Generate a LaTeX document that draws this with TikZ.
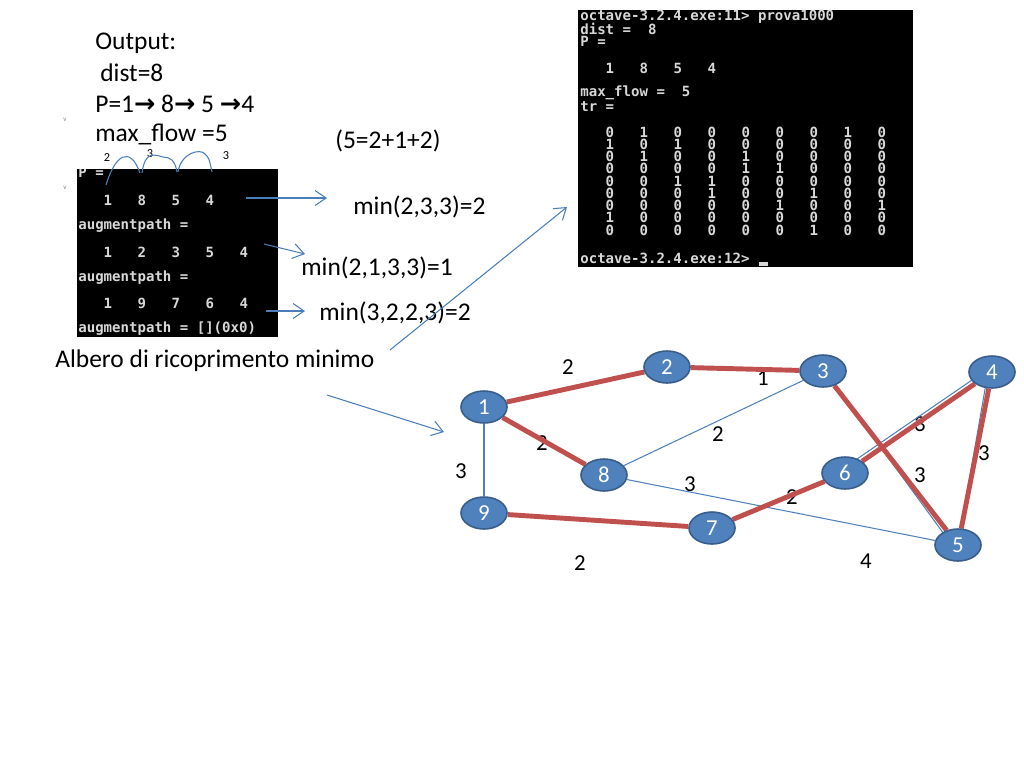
\documentclass[tikz,border=0pt]{standalone}
\usepackage{fontspec}
\setmainfont{Carlito}
\newfontfamily\termfont{DejaVu Sans Mono}
\newfontfamily\symbfont{DejaVu Sans}
\usetikzlibrary{arrows.meta,shapes.geometric,backgrounds}

\definecolor{arrowblue}{HTML}{4A7EBB}
\definecolor{nodeblue}{HTML}{4F81BD}
\definecolor{nodeborder}{HTML}{385D8A}
\definecolor{treered}{HTML}{C0504D}
\definecolor{termgray}{HTML}{D8D8D8}

\newcommand\patharrow{{\symbfont\bfseries →}}

\begin{document}
\begin{tikzpicture}[
    x=0.02cm, y=-0.02cm,
    txt/.style={anchor=west, inner sep=0pt, font=\fontsize{14.5}{17}\selectfont},
    tiny/.style={inner sep=0pt, font=\fontsize{7}{8}\selectfont},
    term/.style={anchor=west, inner sep=0pt, text=termgray,
      font=\termfont\bfseries\fontsize{8}{9}\selectfont},
    digit/.style={inner sep=0pt, text=termgray,
      font=\termfont\bfseries\fontsize{8}{9}\selectfont},
    vertex/.style={ellipse, draw=nodeborder, line width=0.9pt, fill=nodeblue,
      text=white, minimum width=26.2pt, minimum height=18.2pt, inner sep=0pt,
      font=\fontsize{13}{15}\selectfont},
    weight/.style={inner sep=0pt, font=\fontsize{13}{15}\selectfont},
    edge/.style={nodeblue, line width=0.6pt},
    tree/.style={treered, line width=2.8pt},
    link/.style={arrowblue, line width=0.6pt},
    >={Straight Barb[length=2.2mm,width=3mm]}
]

  % page
  \path[use as bounding box] (0,0) rectangle (1024,768);

  % output text
  \node[txt] (out)   at (95,43)  {Output:};
  \node[txt] (dist8) at (100,73) {dist=8};
  \node[txt] (path)  at (95,104) {P=1\patharrow{} 8\patharrow{} 5 \patharrow4};
  \node[txt] (mf)    at (95,134) {max\_flow =5};
  \node[txt] (sum)   at (335,141) {(5=2+1+2)};
  \node[tiny, text=gray, font=\fontsize{4}{5}\selectfont] (tick1) at (65,120) {v};
  \node[tiny, text=gray, font=\fontsize{4}{5}\selectfont] (tick2) at (65,188) {v};

  % left terminal
  \begin{scope}
    \clip (77,169) rectangle (278,337);
    \fill (77,169) rectangle (278,337);
    \node[term] (lp)  at (78,172) {P =};
    \node[term] (la1) at (78,226) {augmentpath =};
    \node[term] (la2) at (78,278) {augmentpath =};
    \node[term] (la3) at (78,329) {augmentpath = [](0x0)};
    \foreach \y/\row in {200/{1,8,5,4}, 252/{1,2,3,5,4}, 303/{1,9,7,6,4}}
      \foreach \v [count=\c] in \row
        \node[digit] (lt-\y-\c) at (107.75+34*\c-34,\y) {\v};
  \end{scope}

  % capacities over the path
  \node[tiny] (c1) at (107,158) {2};
  \node[tiny] (c2) at (150,154) {3};
  \node[tiny] (c3) at (226,156) {3};
  \draw[link] (106,185) .. controls (115,155) and (130,145) .. (140,173);
  \draw[link] (142,173) .. controls (145,150) and (155,155) .. (163,157)
              .. controls (170,157) and (175,160) .. (177,172);
  \draw[link] (178,172) .. controls (181,153) and (200,148) .. (205,154)
              .. controls (209,158) .. (212,172);

  % bottlenecks
  \node[txt] (min1) at (353,207) {min(2,3,3)=2};
  \node[txt] (min2) at (301,268) {min(2,1,3,3)=1};
  \node[txt] (min3) at (319,313) {min(3,2,2,3)=2};
  \node[txt] (mst)  at (55,361) {Albero di ricoprimento minimo};

  \coordinate (a1) at (246,198);  \coordinate (b1) at (327,198);
  \coordinate (a2) at (264,244);  \coordinate (b2) at (305,254);
  \coordinate (a3) at (266,311);  \coordinate (b3) at (305,311);
  \coordinate (a4) at (390,350);  \coordinate (b4) at (567,207);
  \coordinate (a5) at (327,395);  \coordinate (b5) at (444,432);
  \foreach \i in {1,...,5}
    \draw[link,->] (a\i) -- (b\i);

  % right terminal
  \fill (578,10) rectangle (913,267);
  \node[term] (prompt1) at (580,17) {octave-3.2.4.exe:11> prova1000};
  \node[term] (dist)    at (580,29) {dist =\ \ 8};
  \node[term] (pvar)    at (580,41) {P =};
  \foreach \v [count=\c] in {1,8,5,4}
    \node[digit] (rp-\c) at (609.75+34*\c-34,68) {\v};
  \node[term] (mflow)   at (580,93) {max\_flow =\ \ 5};
  \node[term] (trvar)   at (580,107) {tr =};
  \foreach \row [count=\r] in {{0,1,0,0,0,0,0,1,0},{1,0,1,0,0,0,0,0,0},
      {0,1,0,0,1,0,0,0,0},{0,0,0,0,1,1,0,0,0},{0,0,1,1,0,0,0,0,0},
      {0,0,0,1,0,0,1,0,0},{0,0,0,0,0,1,0,0,1},{1,0,0,0,0,0,0,0,0},
      {0,0,0,0,0,0,1,0,0}}
    \foreach \v [count=\c] in \row
      \node[digit] (tr-\r-\c) at (609.75+34*\c-34,132+12.25*\r-12.25) {\v};
  \node[term] (prompt2) at (580,258) {octave-3.2.4.exe:12>};
  \fill[termgray] (759,262) rectangle (768,266);

  % graph
  \foreach \n/\x/\y in {1/484/407, 2/667/367, 3/823/371, 4/992/372, 5/958/545,
                        6/845/473, 7/712/528, 8/604/475, 9/484/513}
    \node[vertex] (n\n) at (\x,\y) {\n};

  \begin{pgfonlayer}{background}
    % weights
    \node[weight] (w12) at (568,367) {2};
    \node[weight] (w23) at (763,378) {1};
    \node[weight] (w18) at (542,443) {2};
    \node[weight] (w19) at (461,471) {3};
    \node[weight] (w83) at (718,434) {2};
    \node[weight] (w85) at (690,484) {3};
    \node[weight] (w76) at (792,497) {2};
    \node[weight] (w46) at (920,424) {3};
    \node[weight] (w35) at (920,475) {3};
    \node[weight] (w45) at (984,453) {3};
    \node[weight] (w97) at (580,563) {2};
    \node[weight] (w58) at (866,561) {4};

    % all edges
    \draw[edge] (n1) -- (n9);
    \draw[edge] (n8) -- (n3);
    \draw[edge] (n8) -- (n5);
    \draw[edge] ([shift={(-4,-3)}]n4.center) -- ([shift={(-4,-3)}]n6.center);
    \draw[edge] ([shift={(2,0)}]n3.center) -- ([shift={(-6,0)}]n5.center);
    \draw[edge] ([shift={(-4,0)}]n4.center) -- (n5.center);

    % spanning tree
    \foreach \a/\b in {1/2, 2/3, 1/8, 3/5, 4/6, 4/5, 9/7, 7/6}
      \draw[tree] (n\a) -- (n\b);
  \end{pgfonlayer}

\end{tikzpicture}
\end{document}
